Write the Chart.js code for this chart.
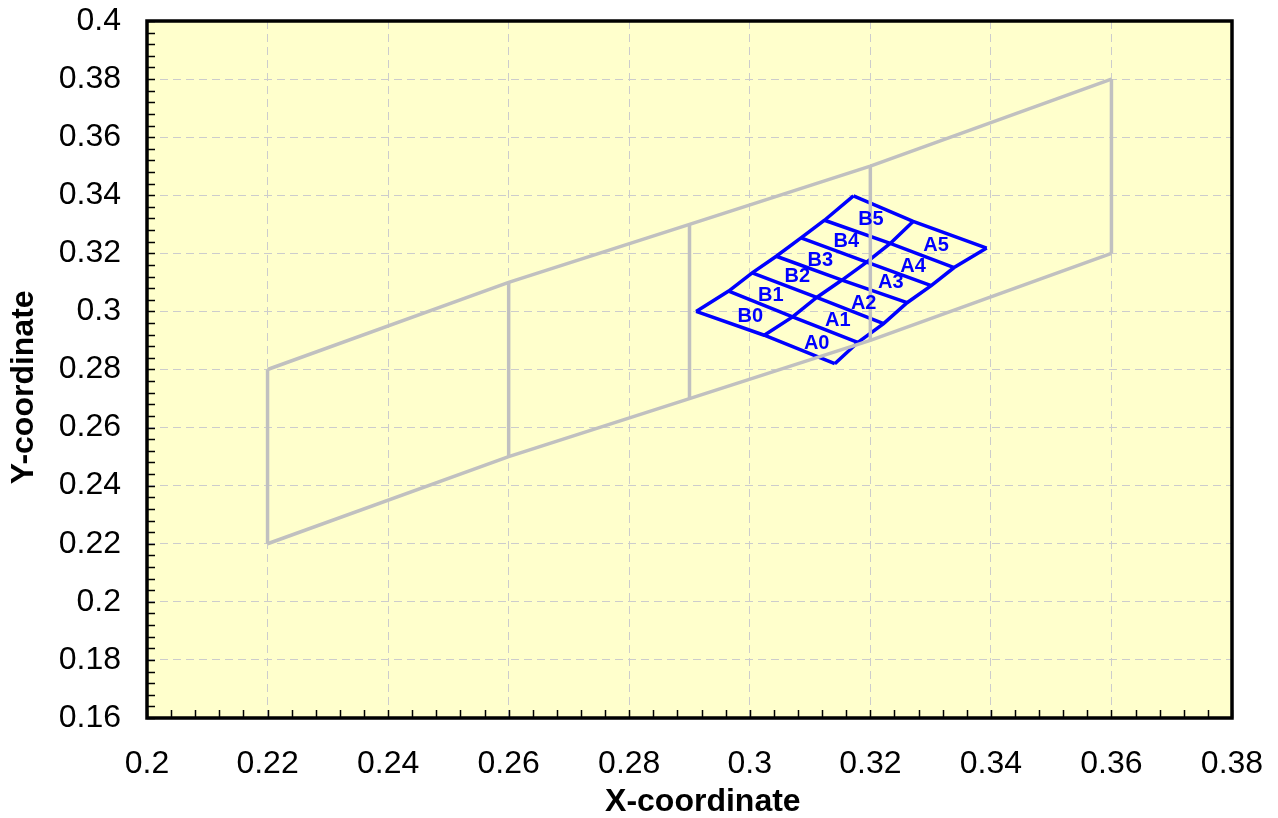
<!DOCTYPE html>
<html><head><meta charset="utf-8">
<script src="https://cdn.jsdelivr.net/npm/chart.js@4.4.1/dist/chart.umd.min.js"></script>
<style>html,body{margin:0;padding:0;background:#fff}canvas{display:block}</style>
</head><body>
<canvas id="c" width="1278" height="818"></canvas>
<script>
// ---- data ----
const xMajorTicks = [0.2, 0.22, 0.24, 0.26, 0.28, 0.3, 0.32, 0.34, 0.36, 0.38];
const xTickLabels = ['0.2','0.22','0.24','0.26','0.28','0.3','0.32','0.34','0.36','0.38'];
const yMajorTicks = [0.16, 0.18, 0.2, 0.22, 0.24, 0.26, 0.28, 0.3, 0.32, 0.34, 0.36, 0.38, 0.4];
const yTickLabels = ['0.16','0.18','0.2','0.22','0.24','0.26','0.28','0.3','0.32','0.34','0.36','0.38','0.4'];

// large gray regions
const grayX      = [0.22, 0.26, 0.29, 0.32, 0.36];
const grayLowerY = [0.22, 0.25, 0.27, 0.29, 0.32];
const grayUpperY = [0.28, 0.31, 0.33, 0.35, 0.38];

// blue bin grid nodes (bottom to top)
const binOuterBX = [0.2911, 0.2965, 0.3004, 0.3044, 0.3085, 0.3124, 0.3172];
const binOuterBY = [0.3000, 0.3070, 0.3133, 0.3190, 0.3253, 0.3314, 0.3398];
const binMidX    = [0.3024, 0.3071, 0.3111, 0.3153, 0.3194, 0.3233, 0.3271];
const binMidY    = [0.2918, 0.2981, 0.3048, 0.3108, 0.3170, 0.3234, 0.3310];
const binOuterAX = [0.3141, 0.3179, 0.3222, 0.3261, 0.3301, 0.3339, 0.3393];
const binOuterAY = [0.2820, 0.2893, 0.2958, 0.3030, 0.3089, 0.3151, 0.3218];

// bin labels
const binNames  = ['A0','A1','A2','A3','A4','A5','B0','B1','B2','B3','B4','B5'];
const binLabelX = [0.3111, 0.3146, 0.3189, 0.3234, 0.3271, 0.3309, 0.3001, 0.3035, 0.3079, 0.3117, 0.3160, 0.3201];
const binLabelY = [0.2889, 0.2970, 0.3029, 0.3098, 0.3156, 0.3228, 0.2984, 0.3056, 0.3119, 0.3176, 0.3242, 0.3316];

// ---- build datasets ----
const GRAY = '#C0C0C0', BLUE = '#0000FF';
function line(pts, color) {
  return { data: pts, showLine: true, borderColor: color, borderWidth: 3.5, pointRadius: 0,
           pointHoverRadius: 0, fill: false, tension: 0, borderJoinStyle: 'miter' };
}
const datasets = [];
datasets.push(line(grayX.map((x, i) => ({x, y: grayLowerY[i]})), GRAY));
datasets.push(line(grayX.map((x, i) => ({x, y: grayUpperY[i]})), GRAY));
grayX.forEach((x, i) => datasets.push(line([{x, y: grayLowerY[i]}, {x, y: grayUpperY[i]}], GRAY)));
datasets.push(line(binOuterBX.map((x, i) => ({x, y: binOuterBY[i]})), BLUE));
datasets.push(line(binMidX.map((x, i) => ({x, y: binMidY[i]})), BLUE));
datasets.push(line(binOuterAX.map((x, i) => ({x, y: binOuterAY[i]})), BLUE));
binMidX.forEach((mx, i) => datasets.push(line([
  {x: binOuterBX[i], y: binOuterBY[i]}, {x: mx, y: binMidY[i]}, {x: binOuterAX[i], y: binOuterAY[i]}], BLUE)));

function majorIndex(list, v) {
  for (let i = 0; i < list.length; i++) if (Math.abs(list[i] - v) < 1e-6) return i;
  return -1;
}

const FONT = '"Liberation Sans", Arial, sans-serif';

const decor = {
  id: 'decor',
  beforeDraw(chart) {
    const {ctx, chartArea: a} = chart;
    ctx.save();
    ctx.fillStyle = '#FFFFCC';
    ctx.fillRect(a.left, a.top, a.right - a.left, a.bottom - a.top);
    ctx.restore();
  },
  afterDatasetsDraw(chart) {
    const {ctx, chartArea: a, scales} = chart;
    ctx.save();
    ctx.font = 'bold 20px ' + FONT;
    ctx.fillStyle = BLUE;
    ctx.textAlign = 'center';
    ctx.textBaseline = 'middle';
    binNames.forEach((n, i) => {
      ctx.fillText(n, scales.x.getPixelForValue(binLabelX[i]), scales.y.getPixelForValue(binLabelY[i]));
    });
    ctx.strokeStyle = '#000';
    ctx.lineWidth = 1.5;
    ctx.beginPath();
    scales.x.ticks.forEach(t => {
      const px = Math.round(scales.x.getPixelForValue(t.value)) + 0.5;
      ctx.moveTo(px, a.bottom); ctx.lineTo(px, a.bottom - 8);
    });
    scales.y.ticks.forEach(t => {
      const py = Math.round(scales.y.getPixelForValue(t.value)) + 0.5;
      ctx.moveTo(a.left, py); ctx.lineTo(a.left + 8, py);
    });
    ctx.stroke();
    ctx.lineWidth = 3.5;
    ctx.strokeRect(a.left, a.top, a.right - a.left, a.bottom - a.top);
    ctx.restore();
  }
};

new Chart(document.getElementById('c'), {
  type: 'scatter',
  data: { datasets },
  options: {
    responsive: false,
    animation: false,
    devicePixelRatio: 1,
    layout: { padding: { top: 21, right: 46, bottom: 0, left: 0 } },
    plugins: { legend: { display: false }, tooltip: { enabled: false } },
    events: [],
    scales: {
      x: {
        type: 'linear', min: 0.2, max: 0.38,
        afterFit: s => { s.height = 100; s.paddingLeft = 0; s.paddingRight = 0; s.paddingTop = 0; s.paddingBottom = 0; },
        ticks: {
          stepSize: 0.004, autoSkip: false, maxRotation: 0, color: '#000', padding: 27,
          font: { family: FONT, size: 32 },
          callback: v => { const i = majorIndex(xMajorTicks, v); return i >= 0 ? xTickLabels[i] : ''; }
        },
        grid: {
          drawTicks: false, lineWidth: 1,
          color: c => (c.tick && majorIndex(xMajorTicks, c.tick.value) >= 0) ? '#CCCCCC' : 'rgba(0,0,0,0)'
        },
        border: { display: false, dash: [8, 5] },
        title: { display: true, text: '   X-coordinate', color: '#000', padding: { top: 0, bottom: 0 },
                 font: { family: FONT, size: 32, weight: 'bold', lineHeight: 1.0 } }
      },
      y: {
        type: 'linear', min: 0.16, max: 0.4,
        afterFit: s => { s.width = 147; s.paddingLeft = 0; s.paddingRight = 0; s.paddingTop = 0; s.paddingBottom = 0; },
        ticks: {
          stepSize: 0.004, autoSkip: false, color: '#000', padding: 26,
          font: { family: FONT, size: 32 },
          callback: v => { const i = majorIndex(yMajorTicks, v); return i >= 0 ? yTickLabels[i] : ''; }
        },
        grid: {
          drawTicks: false, lineWidth: 1,
          color: c => (c.tick && majorIndex(yMajorTicks, c.tick.value) >= 0) ? '#CCCCCC' : 'rgba(0,0,0,0)'
        },
        border: { display: false, dash: [8, 5] },
        title: { display: true, text: 'Y-coordinate    ', color: '#000', padding: { top: 8, bottom: 0 },
                 font: { family: FONT, size: 32, weight: 'bold', lineHeight: 1.0 } }
      }
    }
  },
  plugins: [decor]
});
</script>
</body></html>
